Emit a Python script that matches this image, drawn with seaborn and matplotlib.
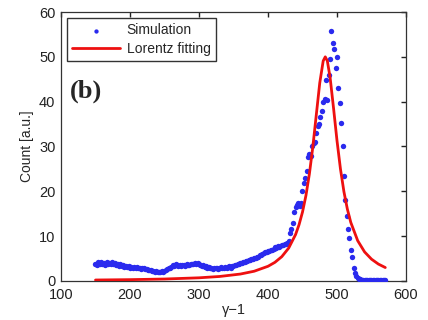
import numpy as np
import pandas as pd
import matplotlib
matplotlib.use("Agg")
import matplotlib.pyplot as plt
import seaborn as sns

# ---- data ----
sim_x = list(range(150, 572, 2))
sim_y = [
    3.9, 3.5, 4.2, 3.7, 4.3, 3.8, 4.1, 3.6, 4.2, 3.9,   # 150-168
    4.1, 3.8, 4.3, 3.9, 4.1, 3.6, 3.8, 3.4, 3.7, 3.3,   # 170-188
    3.5, 3.2, 3.4, 3.1, 3.3, 3.0, 3.2, 2.9, 3.2, 2.9,   # 190-208
    3.1, 2.8, 3.0, 2.7, 2.9, 2.8, 2.6, 2.7, 2.5, 2.4,   # 210-228
    2.5, 2.2, 2.3, 2.0, 2.2, 1.9, 2.1, 2.0, 2.2, 2.1,   # 230-248
    2.3, 2.4, 2.6, 2.8, 3.0, 3.2, 3.5, 3.4, 3.7, 3.5,   # 250-268
    3.4, 3.6, 3.3, 3.5, 3.6, 3.4, 3.7, 3.5, 3.6, 3.8,   # 270-288
    3.7, 3.9, 4.0, 3.8, 4.0, 3.7, 3.6, 3.4, 3.5, 3.2,   # 290-308
    3.3, 3.0, 3.1, 2.8, 3.0, 2.7, 2.9, 2.8, 3.0, 2.7,   # 310-328
    2.9, 3.1, 2.8, 3.0, 3.2, 2.9, 3.1, 3.3, 3.0, 3.4,   # 330-348
    3.3, 3.6, 3.5, 3.8, 3.7, 4.0, 4.1, 4.3, 4.2, 4.5,   # 350-368
    4.4, 4.7, 4.6, 5.0, 4.9, 5.2, 5.1, 5.4, 5.3, 5.7,   # 370-388
    5.8, 6.0, 6.2, 6.5, 6.4, 6.8, 6.6, 7.0, 6.9, 7.2,   # 390-408
    7.5, 7.3, 7.7, 7.6, 7.9, 8.1, 8.0, 8.3, 8.2, 8.5,   # 410-428
    9.0, 10.6, 11.5, 13.0, 15.5, 16.5, 17.0, 17.3, 16.8, 17.5,   # 430-448
    20.0, 21.8, 23.0, 24.5, 27.7, 28.3, 27.8, 30.0, 30.7, 31.0,  # 450-468
    33.0, 34.5, 35.0, 36.5, 38.0, 40.0, 40.5, 44.8, 40.4, 46.0,  # 470-488
    49.5, 55.8, 53.0, 51.7, 47.5, 50.0, 43.0, 39.6, 35.2, 30.0,  # 490-508
    23.5, 18.0, 14.5, 11.5, 9.5, 7.0, 5.4, 3.0, 1.8, 1.1,        # 510-528
    0.7, 0.5, 0.4, 0.3, 0.25, 0.2, 0.3, 0.2, 0.25, 0.2,          # 530-548
    0.3, 0.2, 0.25, 0.2, 0.3, 0.2, 0.25, 0.2, 0.3, 0.2,          # 550-568
    0.2,                                                         # 570
]

fit_x = [150, 200, 250, 300, 330, 360, 380, 400, 410, 420, 430, 440, 445,
         450, 455, 460, 465, 470, 475, 480, 483, 486, 490, 495, 500, 505,
         510, 515, 520, 530, 540, 550, 560, 570]
fit_y = [0.22, 0.30, 0.44, 0.71, 1.01, 1.55, 2.18, 3.28, 4.16, 5.43, 7.35,
         10.37, 12.56, 15.38, 19.08, 23.9, 29.96, 37.06, 44.17, 49.09, 50.0,
         49.09, 45.41, 38.53, 31.31, 25.0, 19.95, 16.05, 13.06, 8.99, 6.48,
         4.87, 3.77, 3.00]

x_ticks = [100, 200, 300, 400, 500, 600]
y_ticks = [0, 10, 20, 30, 40, 50, 60]

sim_df = pd.DataFrame({"x": sim_x, "y": sim_y})
fit_df = pd.DataFrame({"x": fit_x, "y": fit_y})

sns.set_theme(style="white")
plt.rcParams["font.family"] = ["Liberation Sans", "DejaVu Sans"]

fig = plt.figure(figsize=(4.28, 3.2), dpi=100)
ax = fig.add_axes([0.1425, 0.1219, 0.8061, 0.8406])

sns.scatterplot(data=sim_df, x="x", y="y", ax=ax, color="#2a2aee",
                s=15, linewidth=0, marker="o", label="Simulation", zorder=3)
sns.lineplot(data=fit_df, x="x", y="y", ax=ax, color="#ee1010",
             linewidth=2.0, label="Lorentz fitting", zorder=4)

ax.set_xlim(100, 600)
ax.set_ylim(0, 60)
ax.set_xticks(x_ticks)
ax.set_yticks(y_ticks)
ax.tick_params(direction="in", length=3.5, width=1.0, top=True, right=True,
               labelsize=10.5, colors="#222222")
ax.tick_params(axis="x", pad=5)
ax.tick_params(axis="y", pad=4)
for sp in ax.spines.values():
    sp.set_color("#333333")
    sp.set_linewidth(0.9)

ax.set_xlabel("γ−1", fontsize=10.5, labelpad=1)
ax.set_ylabel("Count [a.u.]", fontsize=10, labelpad=4)

leg = ax.legend(loc="upper left", bbox_to_anchor=(0.017, 0.978),
                borderaxespad=0, frameon=True, fancybox=False, fontsize=10,
                handlelength=3.4, borderpad=0.4, labelspacing=0.3,
                handletextpad=0.5, markerscale=0.8)
leg.get_frame().set_edgecolor("black")
leg.get_frame().set_linewidth(1.0)

ax.text(0.025, 0.705, "(b)", transform=ax.transAxes, fontsize=19,
        fontweight="bold", family=["Liberation Serif", "DejaVu Serif"],
        va="center", ha="left")

fig.savefig("out.png", dpi=100)
